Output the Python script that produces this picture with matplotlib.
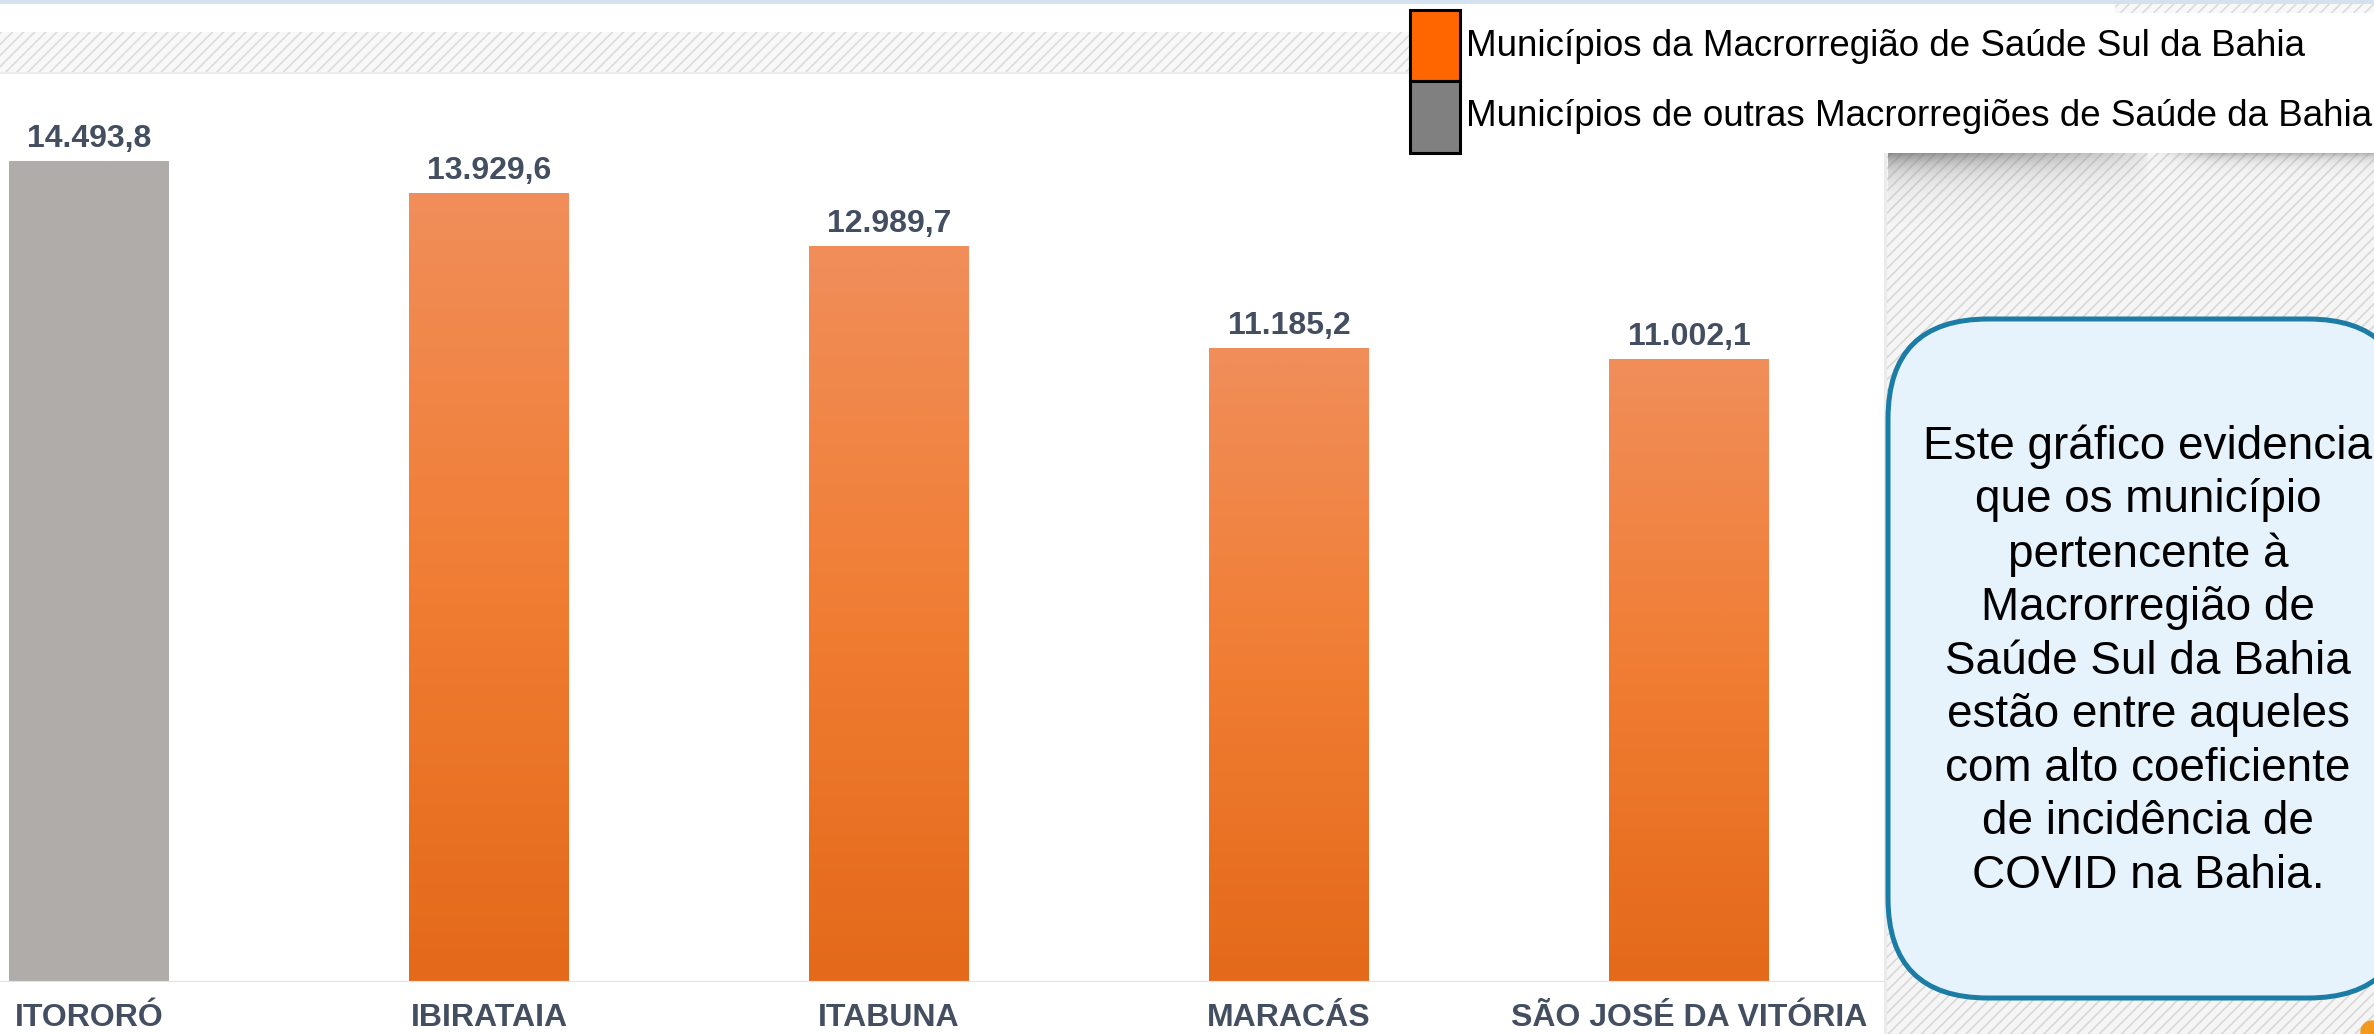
import matplotlib
matplotlib.use("Agg")
import matplotlib.pyplot as plt
import numpy as np
from matplotlib.patches import Rectangle, FancyBboxPatch, Circle
from matplotlib.colors import LinearSegmentedColormap

# data
municipios = ["ITORORÓ", "IBIRATAIA", "ITABUNA", "MARACÁS", "SÃO JOSÉ DA VITÓRIA"]
incidencia = [14493.8, 13929.6, 12989.7, 11185.2, 11002.1]
sul_da_bahia = [False, True, True, True, True]

legend_labels = [
    "Municípios da Macrorregião de Saúde Sul da Bahia",
    "Municípios de outras Macrorregiões de Saúde da Bahia",
]
nota = ("Este gráfico evidencia\nque os município\npertencente à\nMacrorregião de\n"
        "Saúde Sul da Bahia\nestão entre aqueles\ncom alto coeficiente\n"
        "de incidência de\nCOVID na Bahia.")

W, H = 2374, 1034
plt.rcParams["font.family"] = ["Liberation Sans", "DejaVu Sans"]
plt.rcParams["hatch.linewidth"] = 1.2
plt.rcParams["hatch.color"] = "#d8d8d8"

LABEL_COLOR = "#434e60"
ORANGE_TOP = "#f08e5a"
ORANGE_BOT = "#e4691a"
GREY = "#afacaa"


def fmt_br(v):
    s = f"{v:,.1f}"
    return s.replace(",", "X").replace(".", ",").replace("X", ".")


fig = plt.figure(figsize=(W / 100, H / 100), dpi=100, facecolor="white")

# main bar chart
ax = fig.add_axes([0, 52 / H, 1886 / W, 902 / H], zorder=0)
ax.set_facecolor("white")
x = np.arange(len(municipios))
colors = [ORANGE_BOT if s else GREY for s in sul_da_bahia]
bars = ax.bar(x, incidencia, width=0.4, color=colors, lw=0)
ax.set_xlim(-89 / 400, (1886 - 89) / 400)
ax.set_ylim(0, 902 / 0.05665)

cmap = LinearSegmentedColormap.from_list("laranja", [ORANGE_BOT, "#f07d33", ORANGE_TOP])
grad = np.linspace(0, 1, 256).reshape(-1, 1)
for b, s in zip(bars, sul_da_bahia):
    if not s:
        continue
    x0, w, h = b.get_x(), b.get_width(), b.get_height()
    im = ax.imshow(grad, cmap=cmap, origin="lower", aspect="auto",
                   extent=(x0, x0 + w, 0, h), zorder=2)
    im.set_clip_path(b)

ax.axhline(0, color="#e2e2e2", lw=1.6, zorder=3)

for xi, v in zip(x, incidencia):
    ax.annotate(fmt_br(v), xy=(xi, v), xytext=(0, 10), textcoords="offset points",
                ha="center", va="baseline", fontsize=23, fontweight="bold",
                color=LABEL_COLOR)
    ax.annotate(municipios[xi], xy=(xi, 0), xytext=(0, -31.5), textcoords="offset points",
                ha="center", va="baseline", fontsize=23, fontweight="bold",
                color=LABEL_COLOR, annotation_clip=False)

ax.set_xticks([])
ax.set_yticks([])
for sp in ax.spines.values():
    sp.set_visible(False)

# decoration layer in pixel coordinates, above the chart
bg = fig.add_axes([0, 0, 1, 1], zorder=1)
bg.set_xlim(0, W)
bg.set_ylim(H, 0)
bg.axis("off")

bg.add_patch(Rectangle((0, 0), W, 4, color="#d3e2ee", lw=0))
bg.add_patch(Rectangle((0, 32), 1410, 41, facecolor="#f8f8f8", edgecolor="#dcdcdc",
                       hatch="///", lw=0))
bg.add_patch(Rectangle((0, 72), 1410, 2, color="#ececec", lw=0))
bg.add_patch(Rectangle((2115, 4), W - 2115, 9, facecolor="#f8f8f8", edgecolor="#dcdcdc",
                       hatch="///", lw=0))
bg.add_patch(Rectangle((1886, 153), W - 1886, H - 153, facecolor="#f5f5f5",
                       edgecolor="#d8d8d8", hatch="///", lw=0))
bg.add_patch(Rectangle((1884, 153), 3, H - 153, color="#ebebeb", lw=0))

# curled-page shadows under the legend
yy, xx = np.mgrid[0:70, 0:260]
a1 = np.exp(-yy / 16.0) * np.clip(1 - xx / 260.0, 0, 1) ** 0.5 * 0.75
sh1 = np.zeros((70, 260, 4))
sh1[..., :3] = 0.42
sh1[..., 3] = a1
bg.imshow(sh1, extent=(1888, 2148, 223, 153), aspect="auto", zorder=1)
yy2, xx2 = np.mgrid[0:24, 0:220]
a2 = np.exp(-yy2 / 6.0) * np.clip(xx2 / 60.0, 0, 1) * 0.45
sh2 = np.zeros((24, 220, 4))
sh2[..., :3] = 0.42
sh2[..., 3] = a2
bg.imshow(sh2, extent=(2154, 2374, 177, 153), aspect="auto", zorder=1)

# rounded note box
box = FancyBboxPatch((1888, 319), 520, 679, boxstyle="round,pad=0,rounding_size=100",
                     facecolor="#e6f3fd", edgecolor="#1b7ca6", lw=3.6, zorder=3)
bg.add_patch(box)
bg.text(2148, 661, nota, ha="center", va="center", fontsize=33, linespacing=1.28,
        color="black", zorder=4)

# legend
bg.add_patch(Rectangle((1410, 10), 50, 71, facecolor="#ff6600", edgecolor="black", lw=2.2, zorder=3))
bg.add_patch(Rectangle((1410, 81), 50, 72, facecolor="#808080", edgecolor="black", lw=2.2, zorder=3))
bg.text(1466, 47, legend_labels[0], fontsize=26.5, va="center", ha="left", zorder=4)
bg.text(1466, 116, legend_labels[1], fontsize=26.5, va="center", ha="left", zorder=4)

bg.add_patch(Circle((2372, 1032), 11, color="#f39a1e", zorder=2))

fig.savefig("out.png", dpi=100, facecolor="white")
